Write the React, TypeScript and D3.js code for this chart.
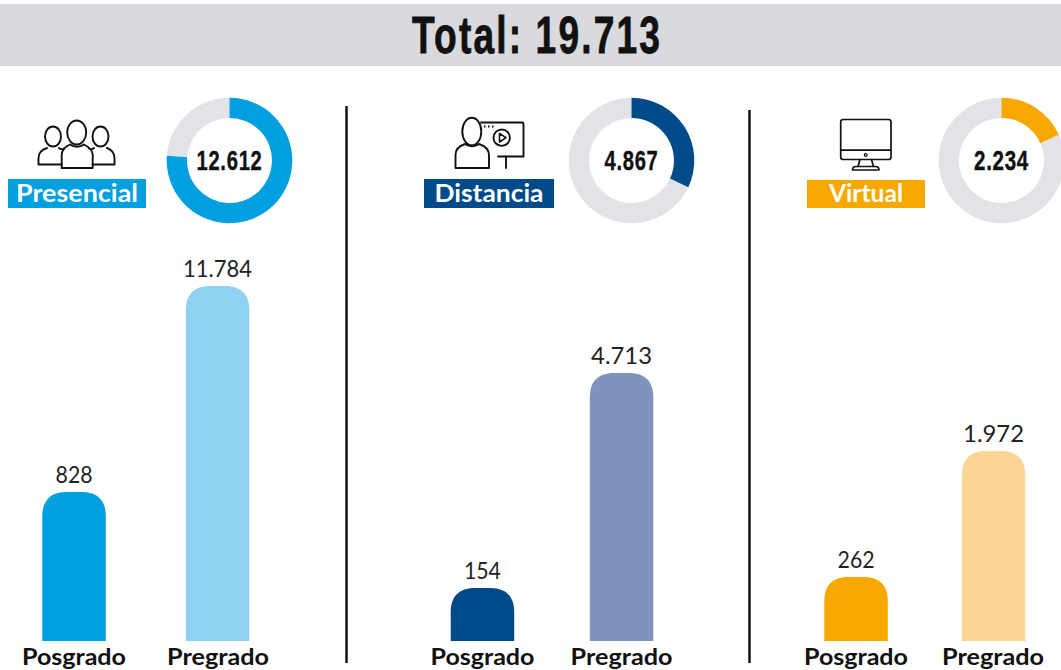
import React from "react";
import * as d3 from "d3";

const totalLabel = "Total: 19.713";
const modalities = ["Presencial", "Distancia", "Virtual"];
const totals = ["12.612", "4.867", "2.234"];
const donutShares = [0.762, 0.32, 0.183];
const categories = ["Posgrado", "Pregrado"];
const posgradoValues = [828, 154, 262];
const pregradoValues = [11784, 4713, 1972];
const posgradoLabels = ["828", "154", "262"];
const pregradoLabels = ["11.784", "4.713", "1.972"];

// The reference's bars follow no single linear scale: this is its own piecewise axis.
const axisKnots = [154, 262, 828, 1972, 4713, 11784];
const axisHeights = [53, 64, 149, 190, 268, 355];

const mainColors = ["#009fe0", "#004a8a", "#f6a800"];
const lightColors = ["#8fd0f3", "#7f93bd", "#fbd596"];
const trackColor = "#e1e3e7";

const BODY = "'Lato', 'Open Sans', sans-serif";
const NARROW = "'Liberation Sans Narrow', 'Liberation Sans', sans-serif";
const baseY = 641;
const barW = 63.5;

const panels = [
  { barL: 42.3, barR: 249.3, cx: 229.5, tag: [8, 179, 138, 29], tagText: 122, numW: 66, valW: [37, 69], catC: [74, 218], catW: [104, 102] },
  { barL: 450.7, barR: 653.3, cx: 631.5, tag: [424, 179, 130, 29], tagText: 109, numW: 54, valW: [37, 61], catC: [482.5, 621.5], catW: [104, 102] },
  { barL: 824.3, barR: 1025.3, cx: 1001.5, tag: [807, 180, 118, 28], tagText: 74, numW: 55, valW: [37, 61], catC: [856, 993], catW: [104, 102] },
];

const heightScale = d3.scaleLinear().domain(axisKnots).range(axisHeights);
const yOf = (v: number) => baseY - heightScale(v);

function topRounded(x: number, y: number, w: number, h: number, r: number) {
  const rr = Math.min(r, h);
  const p = d3.path();
  p.moveTo(x, y + h);
  p.lineTo(x, y + rr);
  p.bezierCurveTo(x, y + rr * 0.35, x + rr * 0.35, y, x + rr, y);
  p.lineTo(x + w - rr, y);
  p.bezierCurveTo(x + w - rr * 0.35, y, x + w, y + rr * 0.35, x + w, y + rr);
  p.lineTo(x + w, y + h);
  p.closePath();
  return p.toString();
}

const arc = d3.arc<d3.PieArcDatum<number>>().innerRadius(42.5).outerRadius(62.8);
const pie = d3.pie<number>().sort(null);

const iconStyle = { fill: "none", stroke: "#111", strokeWidth: 1.9, strokeLinejoin: "round" as const, strokeLinecap: "round" as const };

const PeopleIcon = () => (
  <g {...iconStyle}>
    <ellipse cx={53} cy={136.5} rx={8} ry={10} />
    <ellipse cx={100.5} cy={136.5} rx={8} ry={10} />
    <ellipse cx={76.7} cy={132.5} rx={9.5} ry={12} />
    <path d="M47 148 C 41 150 38.5 153 38.5 158 L 38.5 164.5 L 61.7 164.5" />
    <path d="M59 148 C 60 149 62 149.5 64 148.5" />
    <path d="M107 148 C 112 150 114.5 153 114.5 158 L 114.5 164.5 L 92.7 164.5" />
    <path d="M94 148 C 93 149 91 149.5 89 148.5" />
    <path d="M70 144.5 C 64.5 147 61.7 150 61.7 155 L 61.7 168 L 92.7 168 L 92.7 155 C 92.7 150 89 147 84 144.5 C 80 147.5 74 147.5 70 144.5 Z" />
  </g>
);

const TeacherIcon = () => (
  <g {...iconStyle}>
    <ellipse cx={471.8} cy={131.5} rx={9.5} ry={13.8} />
    <path d="M465 144 C 459 146 455.5 149 455.5 155 L 455.5 168 L 489 168 L 489 155 C 489 149 485 146 479 144 C 475 147 469 147 465 144 Z" />
    <path d="M481 122.5 L 522 122.5 Q 523.5 122.5 523.5 124 L 523.5 156.5 L 498 156.5" />
    <path d="M484 126.5 L 494 126.5" strokeDasharray="1.5 2.5" strokeLinecap="butt" />
    <circle cx={501.7} cy={137.7} r={8.2} />
    <path d="M499.5 133.5 L 506 137.7 L 499.5 142 Z" strokeWidth={1.6} />
    <path d="M506 156.5 L 506 168" />
  </g>
);

const MonitorIcon = () => (
  <g {...iconStyle} strokeWidth={1.7}>
    <rect x={840.7} y={119.5} width={50.3} height={40} rx={2.5} />
    <path d="M840.7 150.2 L 891 150.2" />
    <circle cx={865.7} cy={155} r={1.4} strokeWidth={1.2} />
    <path d="M860 159.5 L 858 166.5 M 871.5 159.5 L 873.5 166.5" />
    <path d="M852.5 170 Q 852.5 166.5 856 166.5 L 875.5 166.5 Q 879 166.5 879 170 Z" />
  </g>
);

const icons = [PeopleIcon, TeacherIcon, MonitorIcon];

export default function App() {
  return (
    <svg width={1061} height={670} viewBox="0 0 1061 670" style={{ position: "absolute", left: 0, top: 0, background: "#fff" }}>
      <rect x={0} y={4} width={1061} height={62} fill="#d9dadd" />
      <text x={537} y={53} textAnchor="middle" fontFamily={NARROW} fontWeight={700} fontSize={52} fill="#111"
        stroke="#111" strokeWidth={0.8} letterSpacing={3} textLength={250} lengthAdjust="spacingAndGlyphs">{totalLabel}</text>

      <line x1={346.5} x2={346.5} y1={106} y2={663} stroke="#111" strokeWidth={2.5} />
      <line x1={749.5} x2={749.5} y1={110} y2={663} stroke="#111" strokeWidth={2.5} />

      {modalities.map((name, i) => {
        const pn = panels[i];
        const gap = pn.barR - pn.barL - 2 * barW;
        const x = d3.scaleBand<string>().domain(categories).range([pn.barL, pn.barR]).paddingInner(gap / (gap + barW));
        const values = [posgradoValues[i], pregradoValues[i]];
        const labels = [posgradoLabels[i], pregradoLabels[i]];
        const colors = [mainColors[i], lightColors[i]];
        const arcs = pie([donutShares[i], 1 - donutShares[i]]);
        const Icon = icons[i];
        const [tx, ty, tw, th] = pn.tag;
        return (
          <g key={name}>
            <g transform={`translate(${pn.cx},160.5)`}>
              <path d={arc(arcs[1]) as string} fill={trackColor} />
              <path d={arc(arcs[0]) as string} fill={mainColors[i]} />
              <text y={9} textAnchor="middle" fontFamily={NARROW} fontWeight={700} fontSize={28} fill="#111"
                stroke="#111" strokeWidth={0.4} letterSpacing={1} textLength={pn.numW} lengthAdjust="spacingAndGlyphs">{totals[i]}</text>
            </g>
            <Icon />
            <rect x={tx} y={ty} width={tw} height={th} fill={mainColors[i]} />
            <text x={tx + tw / 2} y={202} textAnchor="middle" fontFamily={BODY} fontWeight={700} fontSize={25} fill="#fff"
              textLength={pn.tagText} lengthAdjust="spacingAndGlyphs">{name}</text>
            {categories.map((c, k) => {
              const bx = x(c) as number;
              const y = yOf(values[k]);
              return (
                <g key={c}>
                  <path d={topRounded(bx, y, x.bandwidth(), baseY - y, 24)} fill={colors[k]} />
                  <text x={bx + x.bandwidth() / 2} y={y - 9} textAnchor="middle" fontFamily={BODY} fontSize={24} fill="#222"
                    textLength={pn.valW[k]} lengthAdjust="spacingAndGlyphs">{labels[k]}</text>
                  <text x={pn.catC[k]} y={665} textAnchor="middle" fontFamily={BODY} fontWeight={700} fontSize={23} fill="#111"
                    textLength={pn.catW[k]} lengthAdjust="spacingAndGlyphs">{c}</text>
                </g>
              );
            })}
          </g>
        );
      })}
    </svg>
  );
}
